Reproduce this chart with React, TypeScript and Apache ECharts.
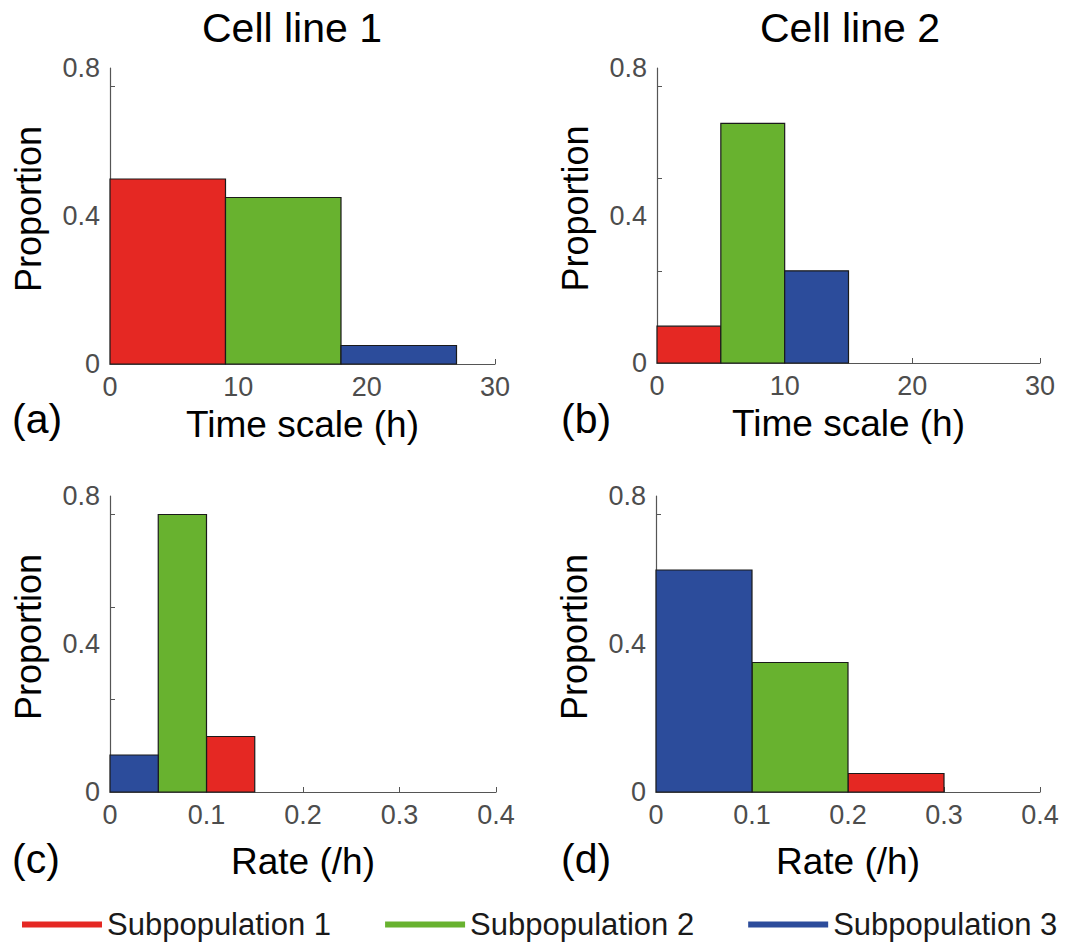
import React, { useEffect, useRef } from "react";
import * as echarts from "echarts";

// ---------- data ----------
const subpopulations = ["Subpopulation 1", "Subpopulation 2", "Subpopulation 3"];
const subpopColors = ["#e52823", "#68b22f", "#2c4c9b"];

// Bin edges [start, end] per subpopulation (1, 2, 3) and bar heights (proportion)
const timeCL1Bins = [[0, 9], [9, 18], [18, 27]];
const timeCL1Values = [0.5, 0.45, 0.05];
const timeCL2Bins = [[0, 5], [5, 10], [10, 15]];
const timeCL2Values = [0.1, 0.65, 0.25];
const rateCL1Bins = [[0.1, 0.15], [0.05, 0.1], [0, 0.05]];
const rateCL1Values = [0.15, 0.75, 0.1];
const rateCL2Bins = [[0.2, 0.3], [0.1, 0.2], [0, 0.1]];
const rateCL2Values = [0.05, 0.35, 0.6];

const timeAxisRange = [0, 30];
const timeAxisStep = 10;
const rateAxisRange = [0, 0.4];
const rateAxisStep = 0.1;
const proportionRange = [0, 0.8];
const proportionLabels = [0, 0.4, 0.8];
const proportionTicks = [0.25, 0.5, 0.75];

const columnTitles = ["Cell line 1", "Cell line 2"];
const panelLetters = ["(a)", "(b)", "(c)", "(d)"];
const xNames = ["Time scale (h)", "Time scale (h)", "Rate (/h)", "Rate (/h)"];
const yName = "Proportion";

const FONT = "'Liberation Sans', Arial, Helvetica, sans-serif";
const AXIS_COLOR = "#555555";
const TICK_LABEL_COLOR = "#4d4d4d";

export default function App() {
  const ref = useRef<HTMLDivElement | null>(null);

  useEffect(() => {
    document.body.style.margin = "0";
    if (!ref.current) return;
    const chart = echarts.init(ref.current, undefined, { renderer: "svg" });

    const panels = [
      { bins: timeCL1Bins, values: timeCL1Values, range: timeAxisRange, step: timeAxisStep, grid: { left: 110, top: 68, width: 385, height: 296 }, nameGap: 42 },
      { bins: timeCL2Bins, values: timeCL2Values, range: timeAxisRange, step: timeAxisStep, grid: { left: 657, top: 68, width: 383, height: 295 }, nameGap: 42 },
      { bins: rateCL1Bins, values: rateCL1Values, range: rateAxisRange, step: rateAxisStep, grid: { left: 110, top: 496, width: 386, height: 296 }, nameGap: 51 },
      { bins: rateCL2Bins, values: rateCL2Values, range: rateAxisRange, step: rateAxisStep, grid: { left: 656, top: 496, width: 384, height: 296 }, nameGap: 51 },
    ];

    const grids = panels.map((p) => ({ ...p.grid, containLabel: false }));

    const xAxes = panels.map((p, i) => ({
      type: "value",
      gridIndex: i,
      min: p.range[0],
      max: p.range[1],
      interval: p.step,
      name: xNames[i],
      nameLocation: "middle",
      nameGap: p.nameGap,
      nameTextStyle: { fontSize: 37, color: "#000", fontFamily: FONT },
      axisLine: { show: true, lineStyle: { color: AXIS_COLOR, width: 1.2 } },
      axisTick: { show: true, inside: true, length: 5, lineStyle: { color: AXIS_COLOR } },
      axisLabel: { fontSize: 27, color: TICK_LABEL_COLOR, margin: 9, fontFamily: FONT },
      splitLine: { show: false },
    }));

    const yAxes = panels.map((p, i) => ({
      type: "value",
      gridIndex: i,
      min: proportionRange[0],
      max: proportionRange[1],
      name: yName,
      nameLocation: "middle",
      nameRotate: 90,
      nameGap: 64,
      nameTextStyle: { fontSize: 36, color: "#000", fontFamily: FONT, padding: [0, 0, 0, 14] },
      axisLine: { show: true, lineStyle: { color: AXIS_COLOR, width: 1.2 } },
      axisTick: { show: true, inside: true, length: 5, customValues: proportionTicks, lineStyle: { color: AXIS_COLOR } },
      axisLabel: { fontSize: 27, color: TICK_LABEL_COLOR, margin: 10, customValues: proportionLabels, fontFamily: FONT },
      splitLine: { show: false },
    }));

    const series: any[] = [];
    panels.forEach((p, i) => {
      subpopulations.forEach((name, k) => {
        series.push({
          type: "custom",
          name,
          xAxisIndex: i,
          yAxisIndex: i,
          itemStyle: { color: subpopColors[k] },
          encode: { x: [0, 1], y: 2 },
          data: [[p.bins[k][0], p.bins[k][1], p.values[k]]],
          renderItem: (params: any, api: any) => {
            const a = api.coord([api.value(0), api.value(2)]);
            const b = api.coord([api.value(1), 0]);
            return {
              type: "rect",
              shape: { x: a[0], y: a[1], width: b[0] - a[0], height: b[1] - a[1] },
              style: { fill: subpopColors[k], stroke: "#1a1a1a", lineWidth: 1.2 },
            };
          },
        });
      });
    });

    const graphic: any[] = [
      { type: "text", x: 292, y: 28, style: { text: columnTitles[0], font: `41px ${FONT}`, fill: "#000", align: "center", verticalAlign: "middle" } },
      { type: "text", x: 850, y: 28, style: { text: columnTitles[1], font: `41px ${FONT}`, fill: "#000", align: "center", verticalAlign: "middle" } },
      { type: "text", x: 12, y: 419, style: { text: panelLetters[0], font: `41px ${FONT}`, fill: "#000", align: "left", verticalAlign: "middle" } },
      { type: "text", x: 561, y: 419, style: { text: panelLetters[1], font: `41px ${FONT}`, fill: "#000", align: "left", verticalAlign: "middle" } },
      { type: "text", x: 12, y: 859, style: { text: panelLetters[2], font: `41px ${FONT}`, fill: "#000", align: "left", verticalAlign: "middle" } },
      { type: "text", x: 561, y: 859, style: { text: panelLetters[3], font: `41px ${FONT}`, fill: "#000", align: "left", verticalAlign: "middle" } },
    ];

    chart.setOption({
      animation: false,
      textStyle: { fontFamily: FONT },
      grid: grids,
      xAxis: xAxes,
      yAxis: yAxes,
      series,
      graphic,
      legend: {
        data: subpopulations,
        left: 22,
        top: 909,
        padding: 0,
        icon: "rect",
        itemWidth: 80,
        itemHeight: 6,
        itemGap: 54,
        itemStyle: { borderWidth: 0 },
        textStyle: { fontSize: 31, color: "#1a1a1a", fontFamily: FONT },
        selectedMode: false,
      },
    });

    return () => chart.dispose();
  }, []);

  return <div ref={ref} style={{ width: 1066, height: 943 }} />;
}
